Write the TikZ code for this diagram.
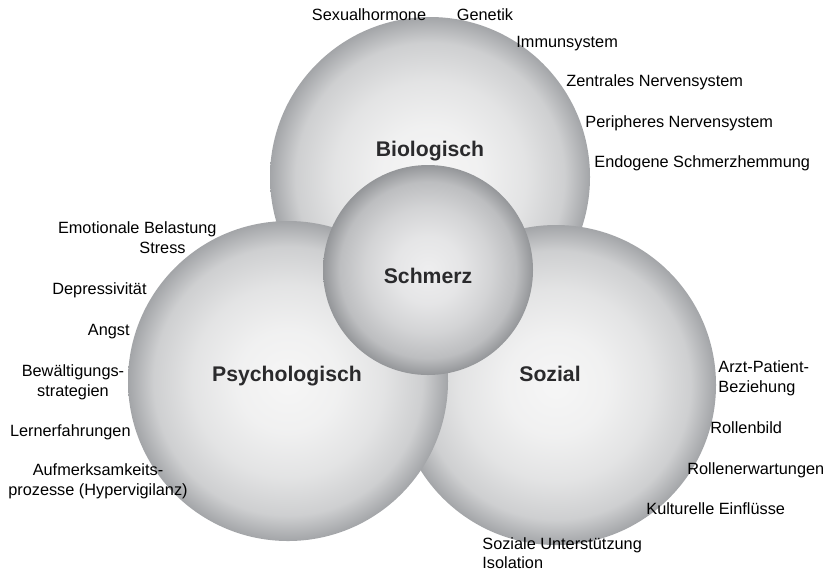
\documentclass[tikz,border=0pt]{standalone}
\usepackage{fontspec}
\setmainfont{Liberation Sans}
\definecolor{hell}{RGB}{246,246,246}
\definecolor{rand}{RGB}{163,165,168}
\definecolor{kernhell}{RGB}{238,238,239}
\definecolor{kernrand}{RGB}{148,150,153}
\definecolor{titelgrau}{RGB}{42,42,44}
\pgfdeclareradialshading{kugel}{\pgfpointorigin}{color(0bp)=(hell); color(8bp)=(hell!93!rand); color(15bp)=(hell!77!rand); color(21bp)=(hell!52!rand); color(25bp)=(rand); color(50bp)=(rand)}
\pgfdeclareradialshading{kern}{\pgfpointorigin}{color(0bp)=(kernhell); color(8bp)=(kernhell!90!kernrand); color(15bp)=(kernhell!70!kernrand); color(21bp)=(kernhell!45!kernrand); color(25bp)=(kernrand); color(50bp)=(kernrand)}
\begin{document}
\begin{tikzpicture}
[x=0.5pt, y=-0.5pt, font=\fontsize{8.15}{9.8}\selectfont,
 titel/.style={font=\fontsize{10.6}{12}\selectfont\bfseries, text=titelgrau, anchor=base},
 faktor/.style={inner sep=0pt}]
\useasboundingbox (0,0) rectangle (828,570);
% Kugeln
\shade [shading=kugel] (430,177) circle [radius=80pt];
\shade [shading=kugel] (556,385) circle [radius=80pt];
\shade [shading=kugel] (288,381) circle [radius=80pt];
\shade [shading=kern] (428,270) circle [radius=52.5pt];
\node [titel] (bio) at (430,156) {Biologisch};
\node [titel] (psy) at (287,381) {Psychologisch};
\node [titel] (soz) at (550,381) {Sozial};
\node [titel] (schmerz) at (428,283) {Schmerz};
% biologisch
\node [faktor, anchor=base] (sexual) at (369,20) {Sexualhormone};
\node [faktor, anchor=base] (genetik) at (485,20) {Genetik};
\node [faktor, anchor=base west] (immun) at (516,47) {Immunsystem};
\node [faktor, anchor=base west] (zns) at (566,86) {Zentrales Nervensystem};
\node [faktor, anchor=base west] (pns) at (585,127) {Peripheres Nervensystem};
\node [faktor, anchor=base west] (endo) at (594,167) {Endogene Schmerzhemmung};
% psychologisch
\node [faktor, anchor=base east] (emo) at (217,233) {Emotionale Belastung};
\node [faktor, anchor=base east] (stress) at (186,253) {Stress};
\node [faktor, anchor=base east] (depr) at (147,294) {Depressivität};
\node [faktor, anchor=base east] (angst) at (130,335) {Angst};
\node [faktor, align=center] (bewael) at (73,382) {Bewältigungs-\\strategien};
\node [faktor, anchor=base east] (lern) at (131,436) {Lernerfahrungen};
\node [faktor, align=center] (aufm) at (98,481) {Aufmerksamkeits-\\prozesse (Hypervigilanz)};
% sozial
\node [faktor, anchor=west, align=left] (arzt) at (718,378) {Arzt-Patient-\\Beziehung};
\node [faktor, anchor=base west] (rollbild) at (710,433) {Rollenbild};
\node [faktor, anchor=base west] (rollerw) at (687,474) {Rollenerwartungen};
\node [faktor, anchor=base west] (kultur) at (646,514) {Kulturelle Einflüsse};
\node [faktor, anchor=west, align=left] (unterst) at (482,553) {Soziale Unterstützung\\Isolation};
\end{tikzpicture}
\end{document}
